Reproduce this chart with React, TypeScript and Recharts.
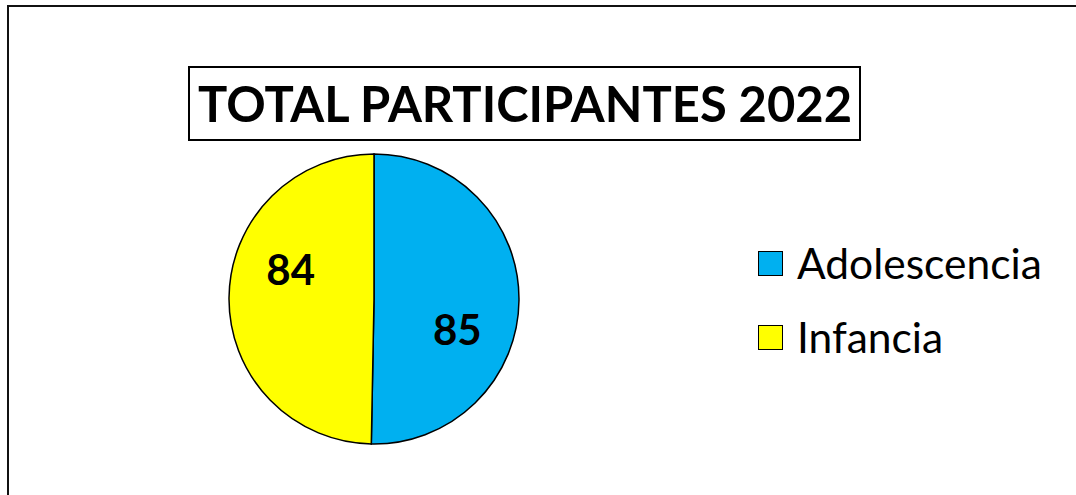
import React from "react";
import { PieChart, Pie, Cell, Legend } from "recharts";

const categories = ["Adolescencia", "Infancia"];
const participants = [85, 84];
const sliceColors = ["#00B0F0", "#FFFF00"];
const chartTitle = "TOTAL PARTICIPANTES 2022";

const data = categories.map((name, i) => ({ name, value: participants[i] }));

const RADIAN = Math.PI / 180;
const FONT = "Lato, 'Open Sans', sans-serif";

// best-fit style labels: pulled a little clockwise from the slice middle
const renderLabel = (props: any) => {
  const { cx, cy, midAngle, outerRadius, value } = props;
  const a = (midAngle - 19) * RADIAN;
  const r = outerRadius * 0.61;
  const x = cx + r * Math.cos(a);
  const y = cy - r * Math.sin(a);
  return (
    <text
      x={x}
      y={y}
      fill="#000"
      textAnchor="middle"
      dominantBaseline="central"
      fontFamily={FONT}
      fontWeight={700}
      fontSize={42}
    >
      {value}
    </text>
  );
};

const LegendContent = ({ payload }: any) => (
  <div style={{ fontFamily: FONT }}>
    {(payload || []).map((p: any) => (
      <div
        key={p.value}
        style={{ display: "flex", alignItems: "center", height: 74 }}
      >
        <span
          style={{
            display: "inline-block",
            width: 23,
            height: 23,
            background: sliceColors[categories.indexOf(p.value)],
            border: "1.5px solid #000",
            marginRight: 14,
          }}
        />
        <span style={{ fontSize: 42.5, color: "#000", lineHeight: 1 }}>
          {p.value}
        </span>
      </div>
    ))}
  </div>
);

export default function App() {
  return (
    <div
      style={{
        position: "fixed",
        left: 0,
        top: 0,
        width: 1076,
        height: 495,
        overflow: "hidden",
        background: "#fff",
      }}
    >
      <div
        style={{
          position: "absolute",
          left: 7,
          top: 5,
          width: 1200,
          height: 600,
          borderTop: "2px solid #111",
          borderLeft: "2px solid #111",
        }}
      />
      <PieChart
        width={1076}
        height={495}
        margin={{ top: 0, right: 0, bottom: 0, left: 0 }}
        style={{ position: "absolute", left: 0, top: 0 }}
      >
        <Pie
          data={data}
          dataKey="value"
          nameKey="name"
          cx={374}
          cy={299}
          outerRadius={145}
          startAngle={90}
          endAngle={-270}
          stroke="#000"
          strokeWidth={1.5}
          label={renderLabel}
          labelLine={false}
          isAnimationActive={false}
        >
          {data.map((d, i) => (
            <Cell key={d.name} fill={sliceColors[i]} />
          ))}
        </Pie>
        <Legend
          layout="vertical"
          verticalAlign="top"
          align="right"
          content={<LegendContent />}
          wrapperStyle={{ left: 758, top: 226, width: 310 }}
        />
      </PieChart>
      <svg
        width={1076}
        height={495}
        style={{ position: "absolute", left: 0, top: 0, pointerEvents: "none" }}
      >
        <rect x={189} y={67} width={671} height={73} fill="#fff" stroke="#000" strokeWidth={2} />
        <text
          x={525}
          y={122}
          textAnchor="middle"
          fontFamily={FONT}
          fontWeight={700}
          fontSize={50}
          textLength={654}
          lengthAdjust="spacingAndGlyphs"
          fill="#000"
        >
          {chartTitle}
        </text>
      </svg>
    </div>
  );
}
